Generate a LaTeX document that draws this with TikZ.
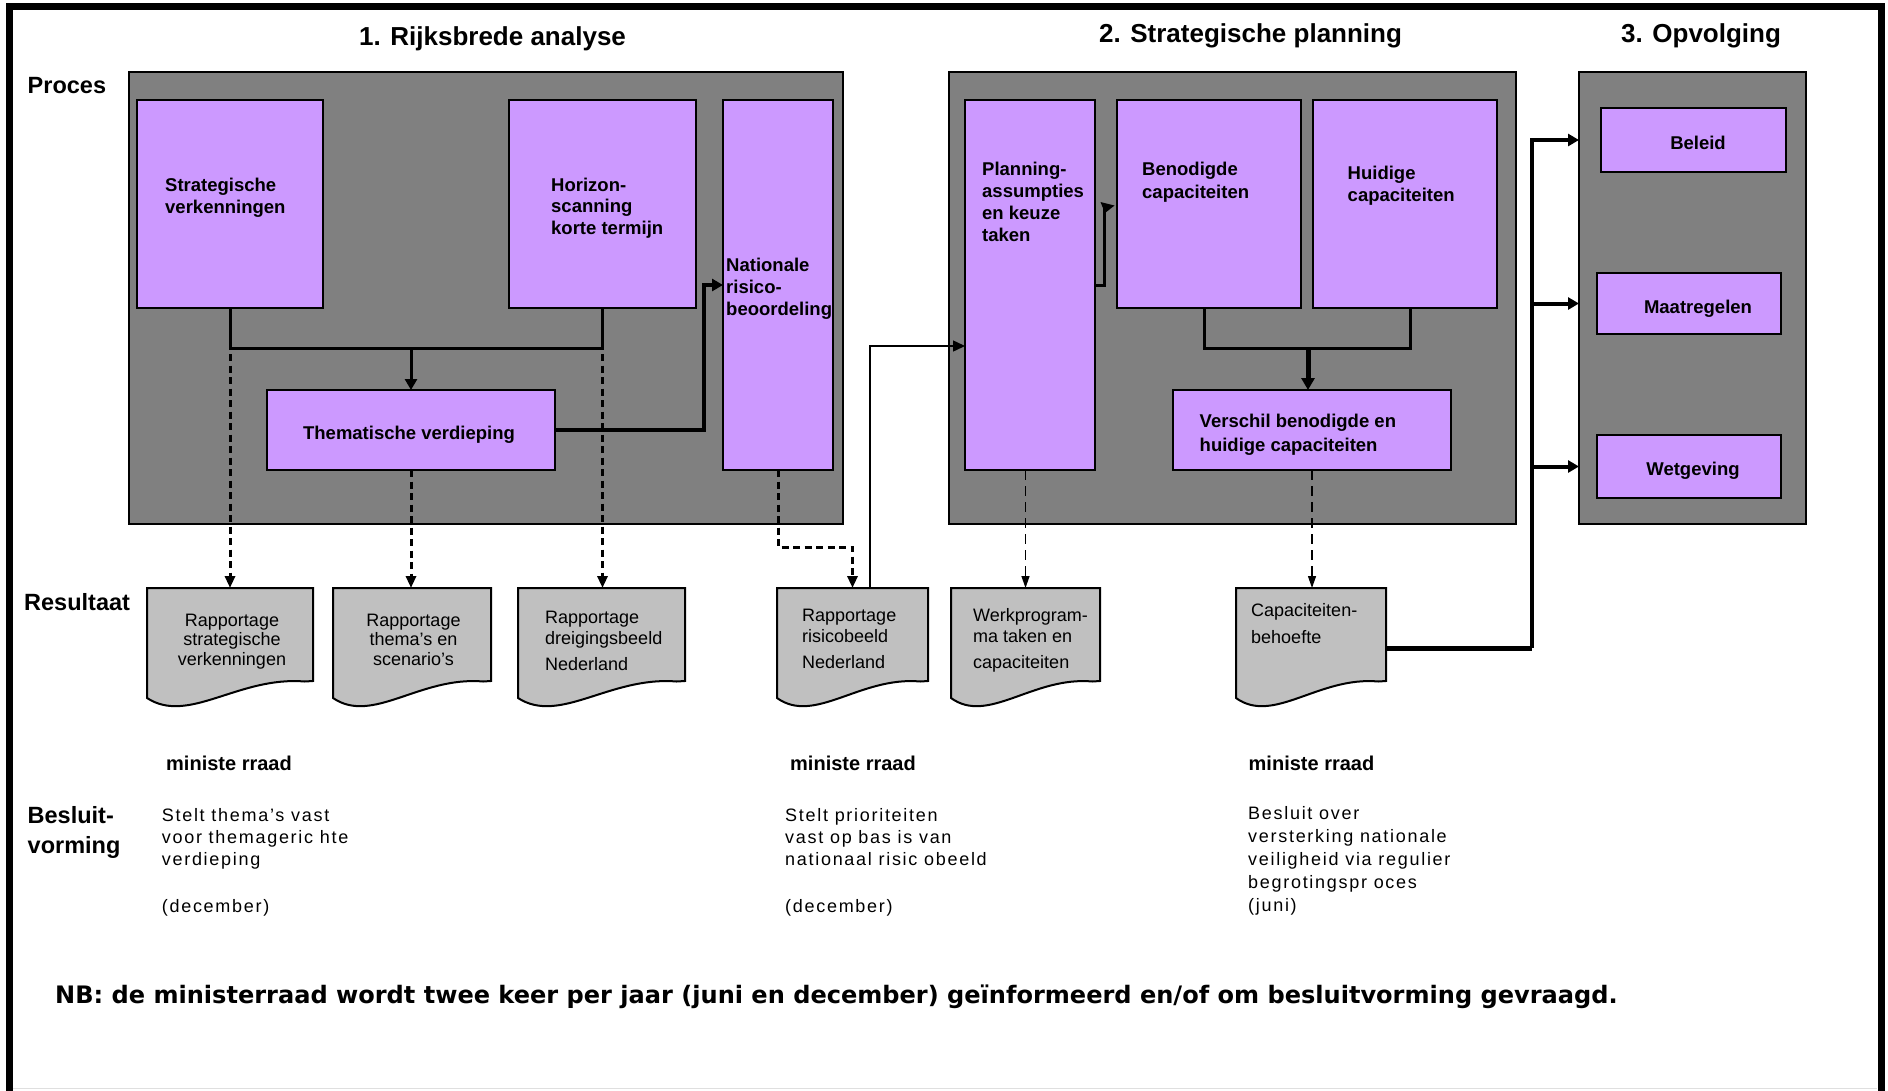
\documentclass[tikz,border=0pt]{standalone}
\usepackage{fontspec}
\setmainfont{Liberation Sans}
\newfontfamily\lspfont{Liberation Sans}[LetterSpace=9.5]
\newfontfamily\nbfont{DejaVu Sans}
\usetikzlibrary{arrows.meta,calc}
\definecolor{grpgray}{HTML}{808080}
\definecolor{lilac}{HTML}{CC99FF}
\definecolor{docgray}{HTML}{C0C0C0}
\tikzset{
  grp/.style={draw=black,line width=2pt,fill=grpgray,inner sep=0,outer sep=0},
  pbox/.style={draw=black,line width=2pt,fill=lilac,inner sep=0,outer sep=0},
  docst/.style={draw=black,line width=2pt,fill=docgray,line join=miter},
  ttl/.style={font=\bfseries\fontsize{26}{30}\selectfont,inner sep=0,anchor=base},
  rowlbl/.style={font=\bfseries\fontsize{23.5}{30}\selectfont,inner sep=0,anchor=base west,align=left},
  btxt/.style={font=\bfseries\fontsize{18.5}{22}\selectfont,inner sep=0,anchor=base west,align=left},
  ctxt/.style={font=\bfseries\fontsize{18.5}{22}\selectfont,inner sep=0,anchor=base},
  dtxt/.style={font=\fontsize{18}{20.7}\selectfont,inner sep=0,anchor=base west,align=left},
  dctxt/.style={font=\fontsize{18}{19.5}\selectfont,inner sep=0,anchor=base,align=center},
  mtxt/.style={font=\bfseries\fontsize{20}{24}\selectfont,inner sep=0,anchor=base west},
  stxt/.style={font=\lspfont\fontsize{18}{22.3}\selectfont,inner sep=0,anchor=base west,align=left},
  nbtxt/.style={font=\nbfont\bfseries\fontsize{24.05}{28}\selectfont,inner sep=0,anchor=base west},
  thk/.style={line width=3pt},
  dthk/.style={line width=3pt,dash pattern=on 7pt off 4.5pt,-{Triangle[length=12pt,width=10pt]}},
  dthn/.style={line width=1.3pt,dash pattern=on 10pt off 6pt,-{Triangle[length=12pt,width=8pt]}},
  arrA/.style={-{Triangle[length=11pt,width=12pt]}},
}
\newcommand\bx[6]{\node[#2,anchor=north west,minimum width={#5-#3},minimum height={#6-#4}] (#1) at (#3,#4) {};}
\newcommand\docshape[3]{%
  \draw[docst] (#2,588) -- (#3,588) -- (#3,681)
    -- ({#3-0.05*(#3-#2)},681.5)
    .. controls ({#2+0.55*(#3-#2)},676) and ({#2+0.25*(#3-#2)},725) .. (#2,698) -- cycle;
  \node[inner sep=0,outer sep=0,minimum width={#3-#2},minimum height=93,anchor=north west] (#1) at (#2,588) {};
}
\begin{document}
\begin{tikzpicture}[x=1pt,y=-1pt]
\useasboundingbox (0,0) rectangle (1888,1090);
\fill[white] (0,0) rectangle (1888,1090);
% outer frame
\draw[gray!25,line width=1.5pt] (13,1088.5) -- (1877,1088.5);
\draw[line width=7pt] (9.5,1100) -- (9.5,6) -- (1881,6) -- (1881,1100);

% titles and row labels
\node[ttl] (t1) at (492.5,45.5) {1. Rijksbrede analyse};
\node[ttl] (t2) at (1250.5,42) {2. Strategische planning};
\node[ttl] (t3) at (1701,42.5) {3. Opvolging};
\node[rowlbl] (lp) at (27.5,93.7) {Proces};
\node[rowlbl] (lr) at (24,610.7) {Resultaat};
\node[rowlbl] (lb) at (27.5,853) {Besluit-\\vorming};

% group boxes
\bx{g1}{grp}{129}{72}{843}{524}
\bx{g2}{grp}{949}{72}{1516}{524}
\bx{g3}{grp}{1579}{72}{1806}{524}

% process boxes
\bx{strat}{pbox}{137}{100}{323}{308}
\bx{hor}{pbox}{509}{100}{696}{308}
\bx{nat}{pbox}{723}{100}{833}{470}
\bx{them}{pbox}{267}{390}{555}{470}
\bx{plan}{pbox}{965}{100}{1095}{470}
\bx{ben}{pbox}{1117}{100}{1301}{308}
\bx{hui}{pbox}{1313}{100}{1497}{308}
\bx{vers}{pbox}{1173}{390}{1451}{470}
\bx{bel}{pbox}{1601}{108}{1786}{172}
\bx{mat}{pbox}{1597}{273}{1781}{334}
\bx{wet}{pbox}{1597}{435}{1781}{498}

% result documents
\docshape{d1}{147}{313}
\docshape{d2}{333}{491}
\docshape{d3}{518}{685}
\docshape{d4}{777}{928}
\docshape{d5}{951}{1100}
\docshape{d6}{1236}{1386}

% connectors, part 1
\coordinate (j1) at (411,348.5);
\draw[thk] (strat.south) |- (j1) -| (hor.south);
\draw[thk,arrA] (j1) -- (them.north);
\coordinate (c1) at (704,285);
\draw[line width=3.5pt,arrA] (them.east) -| (c1) -- (c1 -| nat.west);
\draw[dthk] (strat.south) -- (d1.north);
\draw[dthk] (them.south) -- (them.south |- d2.north);
\draw[dthk] (hor.south) -- (hor.south |- d3.north);
\coordinate (c2) at (852.5,547);
\draw[dthk] (nat.south) |- (c2) -- (d4.north);
\coordinate (c4) at (870,588);
\coordinate (c3) at (870,346);
\draw[line width=1.5pt,-{Triangle[length=12pt,width=11pt]}] (c4) -- (c3) -- (c3 -| plan.west);

% connectors, part 2
\coordinate (c5) at (1104,285);
\coordinate (c6) at (1104,207);
\draw[thk] (c5 -| plan.east) -- (c5) -- (c6);
\fill (1100.5,202) -- (1114.5,205.5) -- (1105,213) -- cycle;
\coordinate (j2) at (1308,348.5);
\draw[thk] ([xshift=-5pt]ben.south) |- (j2) -| ([xshift=5pt]hui.south);
\draw[line width=5pt,-{Triangle[length=12pt,width=13pt]}] (j2) -- (j2 |- vers.north);
\draw[dthn] (d5.north |- plan.south) -- (d5.north);
\draw[dthn] (vers.south) -- (vers.south |- d6.north);

% connectors, part 3
\coordinate (c7) at (1386,648);
\coordinate (c8) at (1532,648);
\draw[line width=5pt] (c7) -- (c8);
\draw[line width=4pt,arrA] (c8) |- (bel.west -| g3.west);
\draw[line width=4pt,arrA] (c8) |- (mat.west -| g3.west);
\draw[line width=4pt,arrA] (c8) |- (wet.west -| g3.west);

% box texts (anchor = baseline of the last line)
\node[btxt] (ts) at (165,213) {Strategische\\verkenningen};
\node[btxt,font=\bfseries\fontsize{18.5}{21.5}\selectfont] (th) at (551,234) {Horizon-\\scanning\\korte termijn};
\node[btxt] (tn) at (726,315) {Nationale\\risico-\\beoordeling};
\node[ctxt] (tt) at (409,439.5) {Thematische verdieping};
\node[btxt] (tp) at (982,241) {Planning-\\assumpties\\en keuze\\taken};
\node[btxt,font=\bfseries\fontsize{18.5}{23.3}\selectfont] (tb) at (1142,198.3) {Benodigde\\capaciteiten};
\node[btxt] (thu) at (1347.5,201) {Huidige\\capaciteiten};
\node[btxt,font=\bfseries\fontsize{18.5}{24}\selectfont] (tv) at (1199.5,451) {Verschil benodigde en\\huidige capaciteiten};
\node[ctxt] (tbe) at (1698,149.3) {Beleid};
\node[ctxt] (tma) at (1698,313.5) {Maatregelen};
\node[ctxt] (twe) at (1693,475) {Wetgeving};

% document texts
\node[dctxt] (td1) at (232,665) {Rapportage\\strategische\\verkenningen};
\node[dctxt] (td2) at (413.5,665) {Rapportage\\thema’s en\\scenario’s};
\node[dtxt] (td3) at (545,670.5) {Rapportage\\dreigingsbeeld\\[5.5pt]Nederland};
\node[dtxt] (td4) at (802,668.5) {Rapportage\\risicobeeld\\[5.5pt]Nederland};
\node[dtxt] (td5) at (973,668.5) {Werkprogram-\\ma taken en\\[5.5pt]capaciteiten};
\node[dtxt] (td6) at (1251,643) {Capaciteiten-\\[5.5pt]behoefte};

% decision texts
\node[mtxt] (m1) at (166,770) {ministe rraad};
\node[mtxt] (m2) at (790,770) {ministe rraad};
\node[mtxt] (m3) at (1248.5,770) {ministe rraad};
\node[stxt] (s1) at (161.7,912) {Stelt thema’s vast\\voor themageric hte\\verdieping\\[24pt](december)};
\node[stxt] (s2) at (785,912) {Stelt prioriteiten\\vast op bas is van\\nationaal risic obeeld\\[24pt](december)};
\node[stxt,font=\lspfont\fontsize{18}{23}\selectfont] (s3) at (1248,911) {Besluit over\\versterking nationale\\veiligheid via regulier\\begrotingspr oces\\(juni)};

\node[nbtxt] (nb) at (55,1003.3) {NB: de ministerraad wordt twee keer per jaar (juni en december) geïnformeerd en/of om besluitvorming gevraagd.};
\end{tikzpicture}
\end{document}
